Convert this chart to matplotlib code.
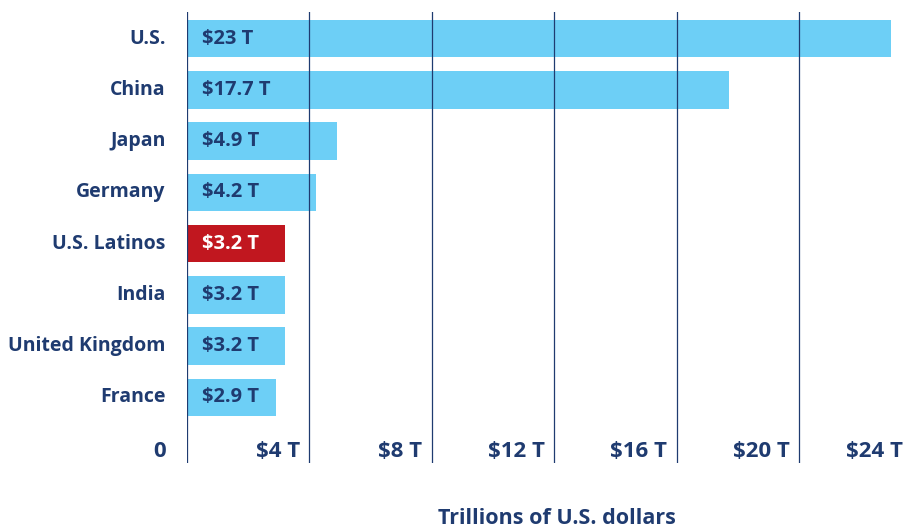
import matplotlib.pyplot as plt

countries = ['U.S.', 'China', 'Japan', 'Germany', 'U.S. Latinos', 'India', 'United Kingdom', 'France']
gdp = [23, 17.7, 4.9, 4.2, 3.2, 3.2, 3.2, 2.9]
value_labels = ['$23 T', '$17.7 T', '$4.9 T', '$4.2 T', '$3.2 T', '$3.2 T', '$3.2 T', '$2.9 T']
ticks = [0, 4, 8, 12, 16, 20, 24]
tick_labels = ['0', '$4 T', '$8 T', '$12 T', '$16 T', '$20 T', '$24 T']

navy = '#1f3b70'
light_blue = '#6dcff6'
red = '#c1171f'

plt.rcParams['font.family'] = ['Open Sans', 'DejaVu Sans']

fig = plt.figure(figsize=(9.06, 5.29), dpi=100)
ax = fig.add_axes([187 / 906, 1 - 463 / 529, 1 - 187 / 906, (463 - 12) / 529])

colors = [red if c == 'U.S. Latinos' else light_blue for c in countries]
ypos = list(range(len(countries)))
ax.barh(ypos, gdp, height=0.73, color=colors, zorder=1)

# value labels inside bars
for y, lab, c in zip(ypos, value_labels, countries):
    ax.text(0.5, y, lab, va='center', ha='left', fontsize=14.5, fontweight='bold',
            color='white' if c == 'U.S. Latinos' else navy, zorder=3)

# country labels to the left
for y, c in zip(ypos, countries):
    ax.text(-0.7, y, c, va='center', ha='right', fontsize=14, fontweight='bold', color=navy)

# vertical grid lines
for t in ticks[:-1]:
    ax.axvline(t, color=navy, linewidth=0.9, zorder=2)

# tick labels sit just left of each line
for t, lab in zip(ticks, tick_labels):
    x = t - 0.3 if t > 0 else -0.7
    x = min(x, 23.4)
    ax.text(x, 8.05, lab, va='center', ha='right', fontsize=16, fontweight='bold', color=navy)

ax.set_xlim(0, 23.5)
ax.set_ylim(8.28, -0.52)
ax.axis('off')

fig.text(557 / 906, 1 - 518 / 529, 'Trillions of U.S. dollars', ha='center', va='center',
         fontsize=15.5, fontweight='bold', color=navy)

fig.savefig('out.png', dpi=100)
